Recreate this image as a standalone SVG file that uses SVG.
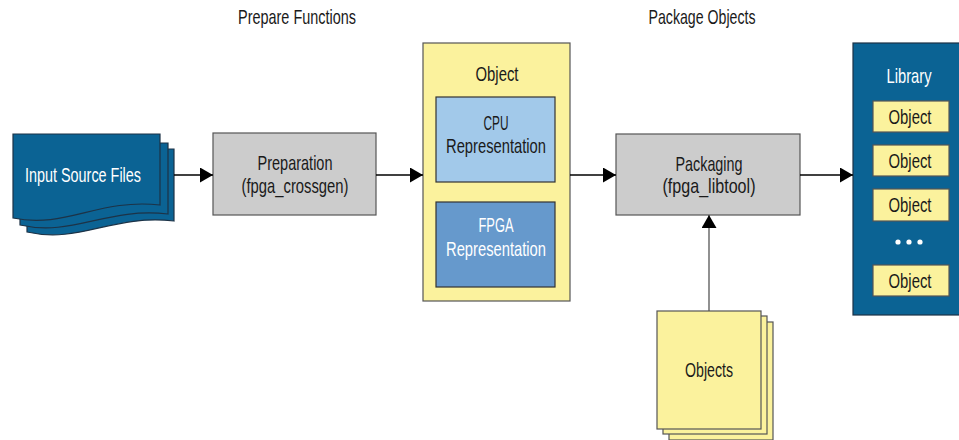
<svg xmlns="http://www.w3.org/2000/svg" width="959" height="440" viewBox="0 0 959 440">
<defs>
<style>
text{font-family:"Liberation Sans",Arial,sans-serif;font-size:21px;text-anchor:middle;fill:#1a1a1a}
.w{fill:#ffffff}
.dark{fill:#0b6394;stroke:#1d3347;stroke-width:1.2}
.gray{fill:#cccccc;stroke:#555555;stroke-width:1.2}
.yel{fill:#fbf29d;stroke:#555555;stroke-width:1.2}
.lb{fill:#a2c9ea;stroke:#333333;stroke-width:1.2}
.mb{fill:#6699cc;stroke:#333333;stroke-width:1.2}
.conn{stroke:#000;stroke-width:1.3;fill:none}
</style>
<marker id="ah" markerWidth="13" markerHeight="15" refX="13" refY="7.5" orient="auto" markerUnits="userSpaceOnUse">
<path d="M0,0 L13,7.5 L0,15 Z" fill="#000"/>
</marker>
</defs>
<rect width="959" height="440" fill="#ffffff"/>
<text x="297" y="24" textLength="118" lengthAdjust="spacingAndGlyphs">Prepare Functions</text>
<text x="702" y="24" textLength="107" lengthAdjust="spacingAndGlyphs">Package Objects</text>

<g id="input">
<path class="dark" d="M27,149 L174,149 L174,221 C112,214 80,244 27,232 Z"/>
<path class="dark" d="M20,143 L168,143 L168,214 C106,207 73,237 20,225 Z"/>
<path class="dark" d="M13,134 L160,134 L160,205 C99,198 66,229 13,218 Z"/>
<text class="w" x="83" y="182" textLength="116" lengthAdjust="spacingAndGlyphs">Input Source Files</text>
</g>

<g id="preparation">
<rect class="gray" x="213" y="133" width="163" height="82"/>
<text x="295" y="170" textLength="75" lengthAdjust="spacingAndGlyphs">Preparation</text>
<text x="295" y="193" textLength="107" lengthAdjust="spacingAndGlyphs">(fpga_crossgen)</text>
</g>

<g id="object">
<rect class="yel" x="423" y="43" width="147" height="258"/>
<text x="497" y="81" textLength="43" lengthAdjust="spacingAndGlyphs">Object</text>
<g id="cpu">
<rect class="lb" x="436" y="97" width="119" height="85"/>
<text x="496" y="130" textLength="25" lengthAdjust="spacingAndGlyphs">CPU</text>
<text x="496" y="153" textLength="100" lengthAdjust="spacingAndGlyphs">Representation</text>
</g>
<g id="fpga">
<rect class="mb" x="436" y="202" width="119" height="85"/>
<text class="w" x="496" y="232" textLength="35" lengthAdjust="spacingAndGlyphs">FPGA</text>
<text class="w" x="496" y="256" textLength="100" lengthAdjust="spacingAndGlyphs">Representation</text>
</g>
</g>

<g id="packaging">
<rect class="gray" x="616" y="134" width="184" height="81"/>
<text x="709" y="171" textLength="67" lengthAdjust="spacingAndGlyphs">Packaging</text>
<text x="709" y="193" textLength="93" lengthAdjust="spacingAndGlyphs">(fpga_libtool)</text>
</g>

<g id="library">
<rect class="dark" x="853" y="43" width="110" height="272"/>
<text class="w" x="909" y="83" textLength="45" lengthAdjust="spacingAndGlyphs">Library</text>
<rect class="yel" x="873" y="101" width="76" height="31"/>
<text x="910" y="124" textLength="43" lengthAdjust="spacingAndGlyphs">Object</text>
<rect class="yel" x="873" y="145" width="76" height="31"/>
<text x="910" y="168" textLength="43" lengthAdjust="spacingAndGlyphs">Object</text>
<rect class="yel" x="873" y="189" width="76" height="32"/>
<text x="910" y="212" textLength="43" lengthAdjust="spacingAndGlyphs">Object</text>
<circle cx="898" cy="242" r="2.6" fill="#fff"/>
<circle cx="909" cy="242" r="2.6" fill="#fff"/>
<circle cx="920" cy="242" r="2.6" fill="#fff"/>
<rect class="yel" x="873" y="265" width="76" height="31"/>
<text x="910" y="288" textLength="43" lengthAdjust="spacingAndGlyphs">Object</text>
</g>

<g id="objects">
<rect class="yel" x="669" y="322" width="104" height="118"/>
<rect class="yel" x="663" y="316" width="104" height="118"/>
<rect class="yel" x="657" y="311" width="104" height="118"/>
<text x="709" y="377" textLength="48" lengthAdjust="spacingAndGlyphs">Objects</text>
</g>

<g id="connectors">
<line class="conn" x1="174" y1="175" x2="213" y2="175" marker-end="url(#ah)"/>
<line class="conn" x1="376" y1="175" x2="423" y2="175" marker-end="url(#ah)"/>
<line class="conn" x1="570" y1="175" x2="616" y2="175" marker-end="url(#ah)"/>
<line class="conn" x1="800" y1="175" x2="853" y2="175" marker-end="url(#ah)"/>
<line class="conn" x1="709" y1="311" x2="709" y2="215" marker-end="url(#ah)" style="stroke:#555"/>
</g>
</svg>
